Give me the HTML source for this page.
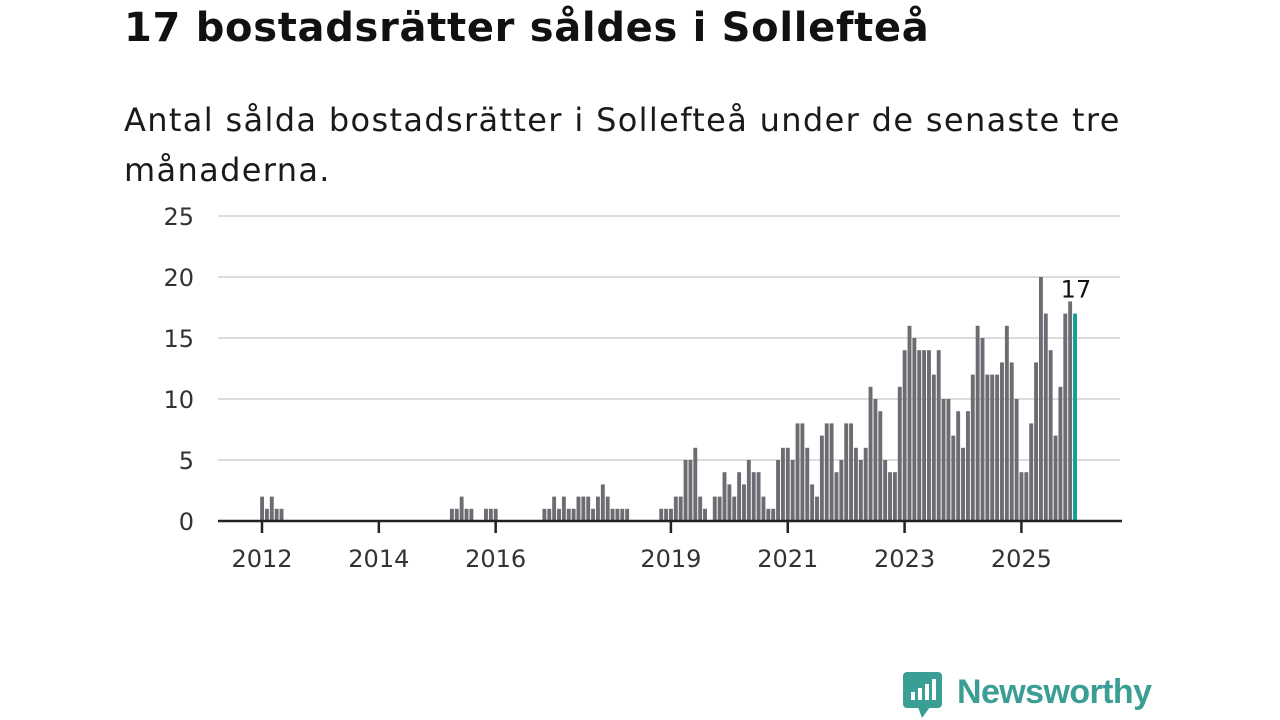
<!DOCTYPE html>
<html><head><meta charset="utf-8">
<style>
body{margin:0;width:1280px;height:720px;background:#fff;overflow:hidden;font-family:"DejaVu Sans","Liberation Sans",sans-serif;}
#title{position:absolute;left:124px;top:5px;font-size:40px;font-weight:bold;color:#111;margin:0;letter-spacing:0.7px}
#sub{position:absolute;left:124px;top:95px;width:1030px;font-size:32px;line-height:50px;color:#1a1a1a;margin:0;letter-spacing:1.35px}
svg{position:absolute;left:0;top:0}
</style></head><body>
<h1 id="title">17 bostadsrätter såldes i Sollefteå</h1>
<p id="sub">Antal sålda bostadsrätter i Sollefteå under de senaste tre månaderna.</p>
<svg id="chart" width="1280" height="720"></svg>
<script>
const startYear = 2012;
const values = [2,1,2,1,1,
0,0,0,0,0,0,0,0,0,0,0,0,0,0,0,0,0,0,0,0,0,0,0,0,0,0,0,0,0,0,0,0,0,0,
1,1,2,1,1,
0,0,
1,1,1,
0,0,0,0,0,0,0,0,0,
1,1,2,1,2,1,1,2,2,2,1,2,3,2,1,1,1,1,
0,0,0,0,0,0,
1,1,1,2,2,5,5,6,2,1,
0,
2,2,4,3,2,4,3,5,4,4,2,1,1,
5,6,6,5,8,8,6,3,2,7,8,8,4,5,8,8,6,5,6,11,10,
9,5,4,4,11,14,16,15,14,14,14,12,14,10,10,7,9,6,9,12,16,15,12,12,12,13,16,13,10,4,4,8,13,20,17,14,7,11,17,18,17];
const yTicks = [0,5,10,15,20,25];
const xTickYears = [2012,2014,2016,2019,2021,2023,2025];
const NS="http://www.w3.org/2000/svg";
const svg=document.getElementById('chart');
const x0=262, step=4.868, y0=521, unit=12.2;
const xAt=i=>x0+i*step;
const yAt=v=>y0-v*unit;
function mk(t,a){const e=document.createElementNS(NS,t);for(const k in a)e.setAttribute(k,a[k]);svg.appendChild(e);return e;}
yTicks.forEach(t=>{
  if(t>0){const g=mk('line',{x1:218,x2:1120,y1:yAt(t),y2:yAt(t),stroke:'#dcdcdc','stroke-width':2});
  
  }
  const l=mk('text',{x:194,y:yAt(t)+9,'text-anchor':'end','font-size':24,fill:'#333'});
  l.textContent=t;
  
  
});
values.forEach((v,i)=>{
  if(v<=0)return;
  const last=i===values.length-1;
  const r=mk('rect',{x:xAt(i)-1.9,y:yAt(v),width:3.9,height:v*unit,fill:last?'#139e93':'#6d6c72'});
  
  
});
const base=mk('line',{x1:218,x2:1122,y1:y0,y2:y0,stroke:'#222','stroke-width':2.5});


xTickYears.forEach(yr=>{
  const x=xAt((yr-startYear)*12);
  const t=mk('line',{x1:x,x2:x,y1:y0,y2:y0+12,stroke:'#222','stroke-width':2.5});
  
  
  const l=mk('text',{x:x,y:567,'text-anchor':'middle','font-size':24,fill:'#333'});
  l.textContent=yr;
  
  
});
const li=values.length-1;
const lab=mk('text',{x:xAt(li)+1,y:yAt(values[li])-16,'text-anchor':'middle','font-size':24,fill:'#111'});
lab.textContent=values[li];


</script>
<svg width="1280" height="720">
<rect x="903" y="672" width="39" height="36" rx="4" fill="#3a9e95"/>
<polygon points="918,707 930,707 922,718" fill="#3a9e95"/>
<rect x="911" y="692" width="4" height="8" fill="#fff"/>
<rect x="918" y="688" width="4" height="12" fill="#fff"/>
<rect x="925" y="684" width="4" height="16" fill="#fff"/>
<rect x="932" y="679" width="4" height="21" fill="#fff"/>
<text x="957" y="703" font-size="34" font-weight="bold" fill="#3a9e95" font-family="Liberation Sans, sans-serif" textLength="195">Newsworthy</text>
</svg>
</body></html>
